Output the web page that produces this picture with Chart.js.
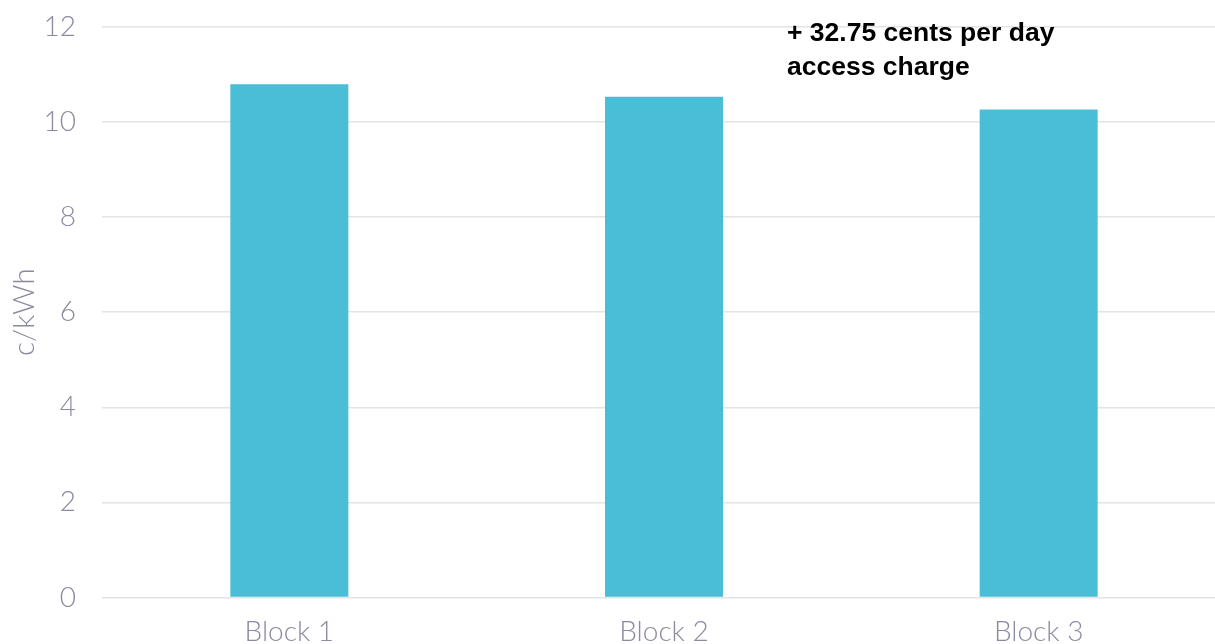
<!DOCTYPE html>
<html>
<head>
<meta charset="utf-8">
<script src="https://cdn.jsdelivr.net/npm/chart.js@4/dist/chart.umd.min.js"></script>
<style>
  html, body { margin: 0; padding: 0; background: #fff; overflow: hidden; }
  .wrap { position: relative; top: -16px; width: 1226px; height: 660px; }
</style>
</head>
<body>
<div class="wrap"><canvas id="myChart"></canvas></div>
<script>
const categories = ["Block 1", "Block 2", "Block 3"];
const prices = [10.79, 10.53, 10.26];
const yTicks = [0, 2, 4, 6, 8, 10, 12];
const noteLines = ["+ 32.75 cents per day", "access charge"];

const tickColor = "#8b8ba0";
const tickFont = { family: "Lato, 'DejaVu Sans', sans-serif", size: 28, weight: "300" };

// text box top-right of the plot
const notePlugin = {
  id: "note",
  afterDraw(chart) {
    const ctx = chart.ctx;
    const x = chart.scales.x.getPixelForValue(1) + 123;
    const y = chart.scales.y.getPixelForValue(12);
    ctx.save();
    ctx.fillStyle = "#000";
    ctx.font = "bold 26.5px 'Liberation Sans', Arial, sans-serif";
    ctx.textBaseline = "alphabetic";
    noteLines.forEach((line, i) => {
      ctx.fillText(line, x, y + 14.5 + i * 34);
    });
    ctx.restore();
  },
};

const chartElement = document.getElementById("myChart");
const myChart = new Chart(chartElement, {
  type: "bar",
  data: {
    labels: categories,
    datasets: [
      {
        label: "c/kWh",
        data: prices,
        backgroundColor: "#49BED6",
        barPercentage: 0.63,
        categoryPercentage: 0.5,
      },
    ],
  },
  options: {
    responsive: true,
    maintainAspectRatio: false,
    animation: false,
    layout: { padding: 0 },
    plugins: {
      legend: { display: false },
      tooltip: { enabled: false },
    },
    scales: {
      x: {
        grid: { display: false },
        border: { display: false },
        ticks: { color: tickColor, font: tickFont, padding: 10 },
        afterFit: (scale) => {
          scale.height = 46.5;
        },
      },
      y: {
        min: 0,
        max: 12,
        afterBuildTicks: (scale) => {
          scale.ticks = yTicks.map((v) => ({ value: v }));
        },
        afterFit: (scale) => {
          scale.width = 102;
        },
        grid: { color: "#e3e3e8", lineWidth: 1.5, drawTicks: false },
        border: { display: false },
        ticks: { color: tickColor, font: tickFont, padding: 26 },
        title: {
          display: true,
          text: "c/kWh",
          color: tickColor,
          font: { ...tickFont, size: 30 },
          padding: { top: 6, bottom: 0 },
        },
      },
    },
  },
  plugins: [notePlugin],
});
</script>
</body>
</html>
